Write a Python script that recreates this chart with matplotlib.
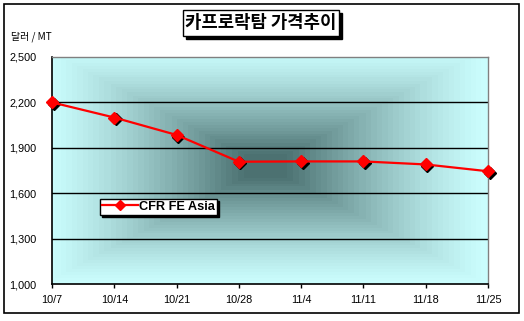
import matplotlib
matplotlib.use('Agg')
import matplotlib.pyplot as plt
import matplotlib.transforms as mtransforms
from matplotlib.patches import Rectangle
import numpy as np

# data
dates = ['10/7', '10/14', '10/21', '10/28', '11/4', '11/11', '11/18', '11/25']
prices = [2200, 2100, 1985, 1808, 1810, 1810, 1790, 1745]
yticks = [1000, 1300, 1600, 1900, 2200, 2500]
series_name = 'CFR FE Asia'
title = '카프로락탐 가격추이'
unit = '달러 / MT'

plt.rcParams['font.family'] = ['Liberation Sans', 'Noto Sans CJK KR', 'DejaVu Sans']

W, H = 524, 321
fig = plt.figure(figsize=(W / 100, H / 100), dpi=100)
fig.patch.set_facecolor('white')

def fx(px):
    return px / W

def fy(py):
    return 1 - py / H

# outer chart frame
fig.add_artist(Rectangle((fx(4), fy(313)), fx(515), (313 - 4) / H, fill=False,
                         edgecolor='black', linewidth=1.2, transform=fig.transFigure))

ax = fig.add_axes([fx(52), fy(284), fx(488) - fx(52), (284 - 57) / H])

# rectangular gradient background (light cyan edges, dark slate centre)
n = 400
u = np.linspace(0, 1, n)
U, V = np.meshgrid(u, u)
d = np.maximum(np.abs(U - 0.49) / 0.51, np.abs(V - 0.48) / 0.52)
d = np.clip(d, 0, 1)
d = np.floor(d * 40) / 40
edge = np.array([0xCC, 0xFF, 0xFF]) / 255
dark = np.array([0x4C, 0x72, 0x72]) / 255
w = np.clip((1 - d) / 0.92, 0, 1) ** 1.3
img = edge[None, None, :] + (dark - edge)[None, None, :] * w[:, :, None]
ax.imshow(img, extent=[0, 1, 0, 1], transform=ax.transAxes, aspect='auto',
          zorder=0, interpolation='nearest')

x = np.arange(len(dates))
for yv in yticks[1:-1]:
    ax.axhline(yv, color='black', linewidth=1, zorder=1)

shadow = ax.transData + mtransforms.ScaledTranslation(0.016, -0.016, fig.dpi_scale_trans)
ax.plot(x, prices, linestyle='none', marker='D', markersize=6, color='black',
        transform=shadow, zorder=2, clip_on=False)
ax.plot(x, prices, color='#FF0000', linewidth=1.6, marker='D', markersize=6,
        markerfacecolor='#FF0000', markeredgecolor='#FF0000', zorder=3,
        clip_on=False, label=series_name)

ax.set_xlim(0, len(dates) - 1)
ax.set_ylim(yticks[0], yticks[-1])
ax.set_xticks(x)
ax.set_xticklabels(dates, fontsize=7.8)
ax.set_yticks(yticks)
ax.set_yticklabels([f'{v:,}' for v in yticks], fontsize=7.8)
ax.tick_params(axis='x', length=3, width=1, direction='out', pad=5)
ax.tick_params(axis='y', length=0, pad=11)
for s in ['left', 'bottom']:
    ax.spines[s].set_color('black')
    ax.spines[s].set_linewidth(1.2)
for s in ['top', 'right']:
    ax.spines[s].set_color('#808080')
    ax.spines[s].set_linewidth(1)

leg = ax.legend(loc='upper left', frameon=True,
                fancybox=False, shadow={'color': 'black', 'alpha': 1, 'ox': 1.5, 'oy': -1.5},
                prop={'weight': 'bold', 'size': 9.2}, borderpad=0.15,
                handlelength=2.8, handletextpad=0.1, borderaxespad=0, markerscale=0.8)
leg.set_bbox_to_anchor((fx(100), fy(199)), transform=fig.transFigure)
leg.get_frame().set_edgecolor('black')
leg.get_frame().set_linewidth(1)

# title box with shadow
fig.add_artist(Rectangle((fx(186), fy(39)), fx(156), 26 / H, facecolor='black',
                         edgecolor='black', transform=fig.transFigure))
fig.add_artist(Rectangle((fx(183), fy(36)), fx(156), 26 / H, facecolor='white',
                         edgecolor='black', linewidth=1, transform=fig.transFigure))
fig.text(fx(261), fy(23), title, ha='center', va='center', fontsize=12.8,
         fontweight='bold', family=['Noto Sans CJK KR', 'DejaVu Sans'])

fig.text(fx(11), fy(37), unit, ha='left', va='center', fontsize=7.2,
         family=['Noto Sans CJK KR', 'DejaVu Sans'])

fig.savefig('out.png', dpi=100)
